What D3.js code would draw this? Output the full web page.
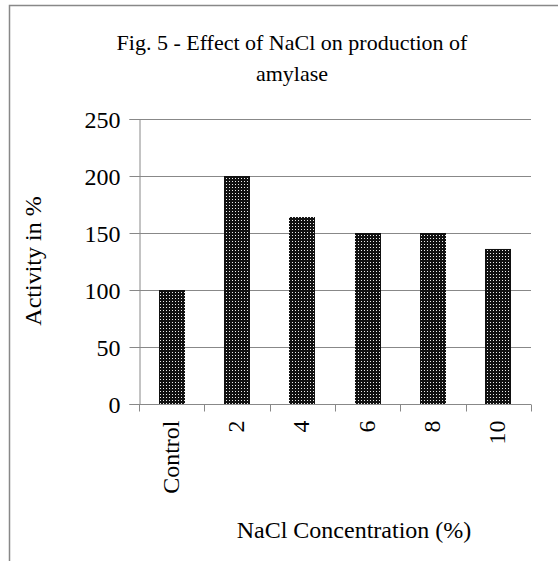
<!DOCTYPE html>
<html><head><meta charset="utf-8">
<script src="https://cdn.jsdelivr.net/npm/d3@7"></script>
<style>body{margin:0;background:#fff}svg{display:block}text{font-family:"Liberation Serif","Times New Roman",serif;fill:#000}</style>
</head><body><svg id="c" width="558" height="561"></svg>
<script>
const categories = ["Control","2","4","6","8","10"];
const activity = [100,200,164,150,150,136];
const yTicks = [0,50,100,150,200,250];
const titleLines = ["Fig. 5 - Effect of NaCl on production of","amylase"];
const yTitle = "Activity in %";
const xTitle = "NaCl Concentration (%)";

const svg = d3.select("#c");
const m = {left:139, right:531, top:119, bottom:404};
const x = d3.scaleBand().domain(categories).range([m.left,m.right]).paddingInner(0.6).paddingOuter(0.3);
const y = d3.scaleLinear().domain([0,250]).range([m.bottom,m.top]);

const defs = svg.append("defs");
const pat = defs.append("pattern").attr("id","dots").attr("patternUnits","userSpaceOnUse").attr("width",3).attr("height",3);
pat.append("rect").attr("width",3).attr("height",3).attr("fill","#111");
pat.append("rect").attr("x",1).attr("y",1).attr("width",1).attr("height",1).attr("fill","#eee");

// outer border (cropped)
svg.append("path").attr("d","M9.5,561V5.5H558").attr("fill","none").attr("stroke","#888").attr("stroke-width",1.5);

// grid
svg.append("g").selectAll("line").data(yTicks.slice(1)).join("line")
  .attr("x1",m.left).attr("x2",m.right).attr("y1",d=>Math.round(y(d))+0.5).attr("y2",d=>Math.round(y(d))+0.5)
  .attr("stroke","#888").attr("stroke-width",1);

// bars
svg.append("g").selectAll("rect").data(activity).join("rect")
  .attr("x",(d,i)=>Math.round(x(categories[i]))).attr("width",Math.round(x.bandwidth()))
  .attr("y",d=>y(d)).attr("height",d=>y(0)-y(d)).attr("fill","url(#dots)");

// y axis
const ya = svg.append("g").attr("transform",`translate(${m.left+0.5},0)`)
  .call(d3.axisLeft(y).tickValues(yTicks).tickSize(10).tickPadding(9));
ya.select(".domain").attr("stroke","#888");
ya.selectAll(".tick line").attr("stroke","#888");
ya.selectAll(".tick text").attr("font-size",24).attr("font-family","Liberation Serif").attr("dy","0.35em");

// x axis
const xa = svg.append("g").attr("transform",`translate(0,${m.bottom+0.5})`)
  .call(d3.axisBottom(x).tickSize(0).tickFormat(""));
xa.select(".domain").attr("stroke","#888").attr("d",`M${m.left},0H${m.right}`);
const bounds = d3.range(categories.length+1).map(i=>m.left + i*(m.right-m.left)/categories.length);
xa.append("g").selectAll("line").data(bounds).join("line")
  .attr("x1",d=>Math.round(d)+0.5).attr("x2",d=>Math.round(d)+0.5).attr("y1",0).attr("y2",7).attr("stroke","#888");
xa.append("g").selectAll("text").data(categories).join("text")
  .attr("transform",d=>`translate(${x(d)+x.bandwidth()/2+7},16) rotate(-90)`)
  .attr("text-anchor","end").attr("font-size",24).text(d=>d);

// titles
svg.append("text").attr("x",292).attr("y",50).attr("text-anchor","middle").attr("font-size",22)
  .selectAll("tspan").data(titleLines).join("tspan").attr("x",292).attr("dy",(d,i)=>i?31:0).text(d=>d);
svg.append("text").attr("transform","translate(41,261) rotate(-90)").attr("text-anchor","middle").attr("font-size",24).text(yTitle);
svg.append("text").attr("x",354).attr("y",538).attr("text-anchor","middle").attr("font-size",24).text(xTitle);
</script></body></html>
